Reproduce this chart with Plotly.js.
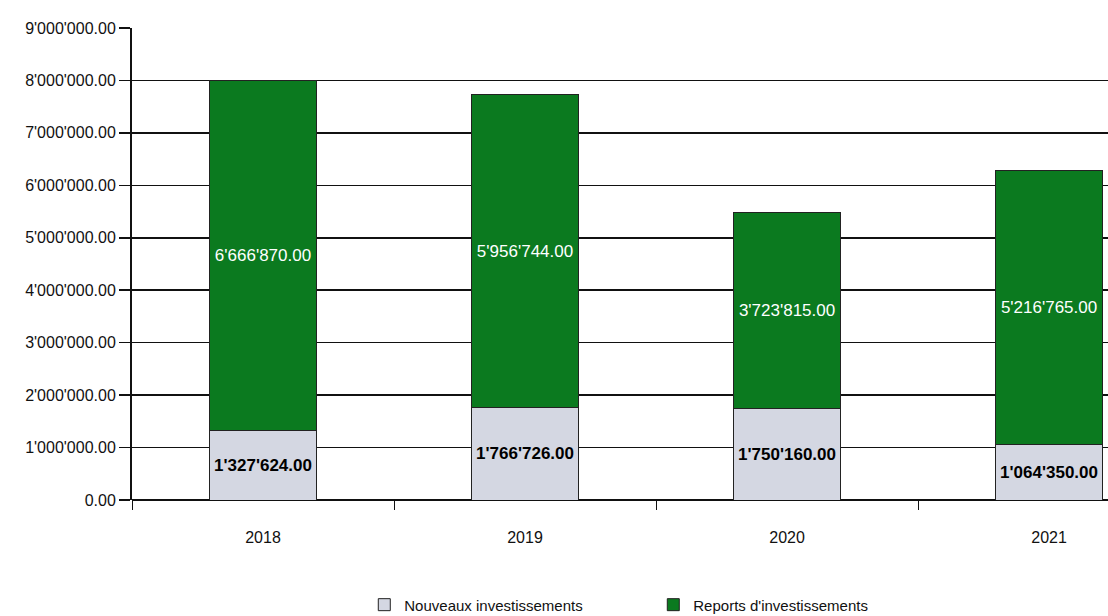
<!DOCTYPE html>
<html>
<head>
<meta charset="utf-8">
<script src="https://cdn.plot.ly/plotly-3.0.1.min.js"></script>
<style>html,body{margin:0;padding:0;background:#fff;}#chart{width:1108px;height:616px;}</style>
</head>
<body>
<div id="chart"></div>
<script>
const years = ['2018', '2019', '2020', '2021'];
const nouveaux = [1327624.00, 1766726.00, 1750160.00, 1064350.00];
const reports = [6666870.00, 5956744.00, 3723815.00, 5216765.00];
const seriesNames = ['Nouveaux investissements', "Reports d'investissements"];
const yTickVals = [0, 1000000, 2000000, 3000000, 4000000, 5000000, 6000000, 7000000, 8000000, 9000000];
const yTickText = ['0.00', "1'000'000.00", "2'000'000.00", "3'000'000.00", "4'000'000.00", "5'000'000.00", "6'000'000.00", "7'000'000.00", "8'000'000.00", "9'000'000.00"];

function fmt(v) {
  const parts = v.toFixed(2).split('.');
  return parts[0].replace(/\B(?=(\d{3})+(?!\d))/g, "'") + '.' + parts[1];
}

const FONT = 'Liberation Sans, Arial, sans-serif';

const traces = [
  {
    type: 'bar', name: seriesNames[0], x: years, y: nouveaux,
    text: nouveaux.map(fmt), textposition: 'inside', insidetextanchor: 'middle',
    constraintext: 'none',
    textfont: {family: FONT, size: 17, color: '#000', weight: 'bold'},
    marker: {color: '#d4d7e2', line: {color: '#222', width: 1}},
    width: 0.405, hoverinfo: 'none'
  },
  {
    type: 'bar', name: seriesNames[1], x: years, y: reports,
    text: reports.map(fmt), textposition: 'inside', insidetextanchor: 'middle',
    constraintext: 'none',
    textfont: {family: FONT, size: 17, color: '#fff'},
    marker: {color: '#0b7a1f', line: {color: '#222', width: 1}},
    width: 0.405, hoverinfo: 'none'
  }
];

const layout = {
  width: 1108, height: 616,
  margin: {l: 132, r: 0, t: 28, b: 116, autoexpand: false},
  paper_bgcolor: '#fff', plot_bgcolor: '#fff',
  barmode: 'stack',
  showlegend: true,
  font: {family: FONT, color: '#111'},
  xaxis: {
    type: 'category', range: [-0.5, 3.225],
    showgrid: false, showline: false, zeroline: false,
    ticks: 'outside', tickson: 'boundaries', ticklen: 9, tickcolor: '#111', tickwidth: 1,
    tickfont: {family: FONT, size: 16, color: '#111'},
    ticklabelstandoff: 26
  },
  yaxis: {
    range: [0, 9000000],
    tickvals: yTickVals, ticktext: yTickText,
    showgrid: true, gridcolor: '#111', gridwidth: 1.5,
    zeroline: true, zerolinecolor: '#111', zerolinewidth: 1.5,
    showline: true, linecolor: '#111', linewidth: 2,
    ticks: 'outside', ticklen: 11, tickcolor: '#111', tickwidth: 1.5,
    tickfont: {family: FONT, size: 16, color: '#111'}
  },
  legend: {
    orientation: 'h', x: 0.238, xanchor: 'left', yref: 'container', y: 0.018, yanchor: 'middle',
    traceorder: 'normal', entrywidth: 244,
    font: {family: FONT, size: 15, color: '#111'},
    itemwidth: 30
  }
};

Plotly.newPlot('chart', traces, layout, {displayModeBar: false, staticPlot: true});
</script>
</body>
</html>
